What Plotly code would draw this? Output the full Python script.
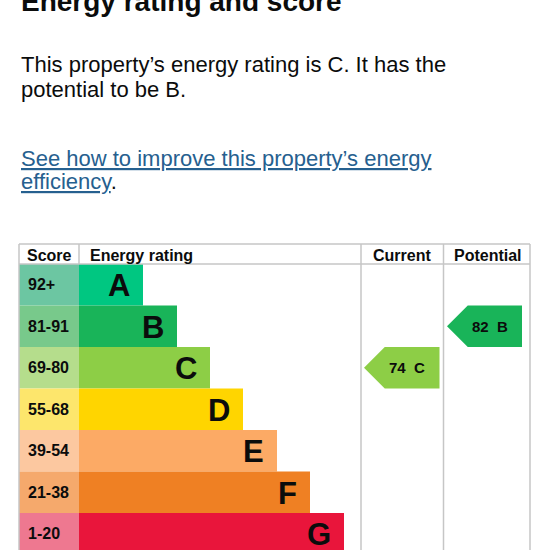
import plotly.graph_objects as go

# ---------------- data ----------------
bands = ["A", "B", "C", "D", "E", "F", "G"]
score_ranges = ["92+", "81-91", "69-80", "55-68", "39-54", "21-38", "1-20"]
band_min_scores = [92, 81, 69, 55, 39, 21, 1]
bar_lengths = [64, 98, 131, 164, 198, 231, 265]
bar_colors = ["#00c781", "#19b459", "#8dce46", "#ffd500", "#fcaa65", "#ef8023", "#e9153b"]
score_cell_colors = ["#6cc6a2", "#78c98b", "#b5dd8c", "#fde66c", "#fcc8a0", "#f5a96c", "#ee7890"]
column_titles = ["Score", "Energy rating", "Current", "Potential"]
current_score = 74
potential_score = 82

title_text = "Energy rating and score"
para_lines = ["This property’s energy rating is C. It has the", "potential to be B."]
link_lines = ["See how to improve this property’s energy", "efficiency"]

# ---------------- layout constants (pixels) ----------------
W = H = 550
FONT = "Liberation Sans, Arial, sans-serif"
TXT = "#0b0c0c"
LINK = "#26608f"
GRID = "#c6c6c6"
table_left, score_right, rating_right, current_right, table_right = 19, 79, 361, 443.5, 530
table_top, header_bottom, row_h = 244, 264, 41.5


def r(p):
    """pixel y -> row units"""
    return (p - header_bottom) / row_h - 0.5


def py(p):
    """pixel y -> paper"""
    return 1 - p / H


def band_of(score):
    for i, m in enumerate(band_min_scores):
        if score >= m:
            return i
    return len(bands) - 1


rows = list(range(len(bands)))
fig = go.Figure()

# score cells
fig.add_trace(go.Bar(
    orientation="h", y=rows, x=[score_right - table_left] * len(rows), base=table_left,
    width=1, marker=dict(color=score_cell_colors, line=dict(width=0)),
    hoverinfo="skip", showlegend=False))
# rating bars
fig.add_trace(go.Bar(
    orientation="h", y=rows, x=bar_lengths, base=score_right,
    width=1, marker=dict(color=bar_colors, line=dict(width=0)),
    hoverinfo="skip", showlegend=False))

annotations = []
# band labels
for i in rows:
    annotations.append(dict(x=table_left + 7, y=i, xref="x", yref="y", text=f"<b>{score_ranges[i]}</b>",
                            showarrow=False, xanchor="left", yanchor="middle",
                            font=dict(family=FONT, size=16, color=TXT)))
    annotations.append(dict(x=score_right + bar_lengths[i] - 11, y=i + 0.02, xref="x", yref="y",
                            text=f"<b>{bands[i]}</b>", showarrow=False, xanchor="right", yanchor="middle",
                            font=dict(family=FONT, size=31, color=TXT)))

# arrows for current / potential
half = row_h / 2
for score, (cl, cr), tip_pad, end_pad in [
        (current_score, (rating_right, current_right), 3, 4),
        (potential_score, (current_right, table_right), 3.5, 8)]:
    b = band_of(score)
    tip = cl + tip_pad
    right = cr - end_pad
    xs = [tip, tip + half, right, right, tip + half, tip]
    ys = [b, b - 0.5, b - 0.5, b + 0.5, b + 0.5, b]
    fig.add_trace(go.Scatter(x=xs, y=ys, fill="toself", mode="lines", line=dict(width=0),
                             fillcolor=bar_colors[b], hoverinfo="skip", showlegend=False))
    annotations.append(dict(x=(tip + right) / 2 + 5.5, y=b, xref="x", yref="y",
                            text=f"<b>{score}\u00a0 {bands[b]}</b>", showarrow=False,
                            xanchor="center", yanchor="middle",
                            font=dict(family=FONT, size=15, color=TXT)))

# header texts
hy = r(261) - 0.35 * 16 / row_h
annotations += [
    dict(x=table_left + 6, y=hy, text=f"<b>{column_titles[0]}</b>", xanchor="left"),
    dict(x=score_right + 9, y=hy, text=f"<b>{column_titles[1]}</b>", xanchor="left"),
    dict(x=(rating_right + current_right) / 2, y=hy, text=f"<b>{column_titles[2]}</b>", xanchor="center"),
    dict(x=(current_right + table_right) / 2 + 1, y=hy, text=f"<b>{column_titles[3]}</b>", xanchor="center"),
]
for a in annotations[-4:]:
    a.update(xref="x", yref="y", showarrow=False, yanchor="middle",
             font=dict(family=FONT, size=16, color=TXT))

# page texts (paper coords)
def page_text(text, baseline, size, color=TXT):
    return dict(x=table_left / W, y=py(baseline - 0.35 * size), xref="paper", yref="paper",
                text=text, showarrow=False, xanchor="left", yanchor="middle",
                font=dict(family=FONT, size=size, color=color))

annotations.append(page_text(f"<b>{title_text}</b>", 11, 28))
annotations.append(page_text(para_lines[0], 72, 22))
annotations.append(page_text(para_lines[1], 97, 22))
annotations.append(page_text(f"<u>{link_lines[0]}</u>", 166, 22, LINK))
annotations.append(page_text(f"<span style='color:{LINK}'><u>{link_lines[1]}</u></span>.", 189, 22))

# table lines
bottom = r(600)
lines = [
    (table_left, table_right, r(table_top), r(table_top)),
    (table_left, table_right, r(header_bottom), r(header_bottom)),
    (table_left, table_left, r(table_top), bottom),
    (score_right, score_right, r(table_top), r(header_bottom)),
    (rating_right, rating_right, r(table_top), bottom),
    (current_right, current_right, r(table_top), bottom),
    (table_right, table_right, r(table_top), bottom),
]
shapes = [dict(type="line", xref="x", yref="y", x0=a, x1=b2, y0=c, y1=d,
               line=dict(color=GRID, width=1.5), layer="above") for a, b2, c, d in lines]

fig.update_layout(
    width=W, height=H, margin=dict(l=0, r=0, t=0, b=0),
    paper_bgcolor="white", plot_bgcolor="white",
    barmode="overlay", showlegend=False,
    xaxis=dict(range=[0, W], visible=False, fixedrange=True),
    yaxis=dict(range=[r(H), r(0)], visible=False, fixedrange=True),
    annotations=annotations, shapes=shapes,
)

fig.write_html("out.html", config={"displayModeBar": False},
               post_script="document.body.style.margin='0';")
